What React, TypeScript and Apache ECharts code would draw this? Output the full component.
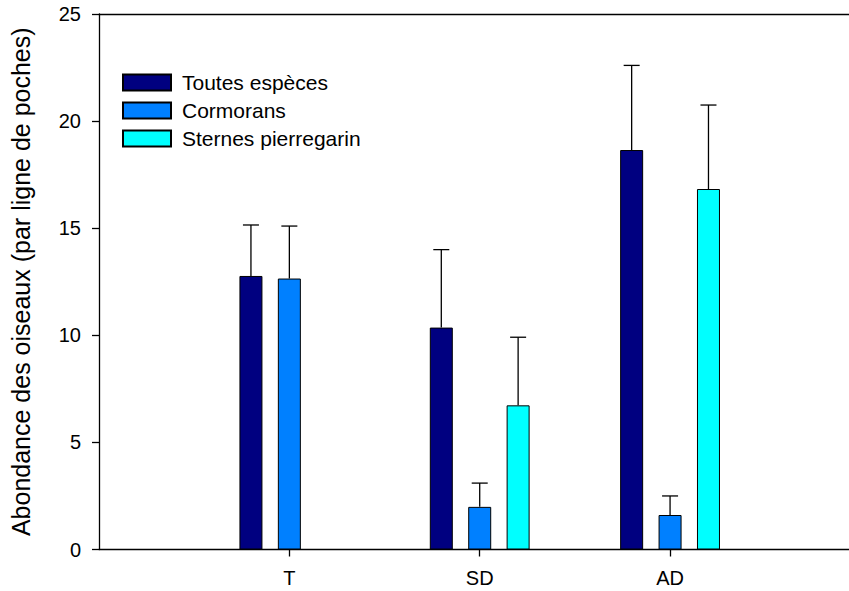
import React, { useEffect, useRef } from "react";
import * as echarts from "echarts";

const categories = ["T", "SD", "AD"];
const seriesNames = ["Toutes espèces", "Cormorans", "Sternes pierregarin"];
const toutesValues = [12.77, 10.36, 18.65];
const toutesErrors = [2.38, 3.64, 3.95];
const cormoransValues = [12.65, 1.99, 1.61];
const cormoransErrors = [2.45, 1.11, 0.89];
const sternesValues: (number | null)[] = [null, 6.73, 16.83];
const sternesErrors: (number | null)[] = [null, 3.18, 3.92];
const colors = ["#000080", "#0080FF", "#00FFFF"];
const yTicks = [0, 5, 10, 15, 20, 25];

const FONT = "Liberation Sans, Arial, Helvetica, sans-serif";
const BAR_WIDTH = 23;
const BAR_GAP = 0.67;

export default function App() {
  const ref = useRef<HTMLDivElement>(null);
  useEffect(() => {
    if (!ref.current) return;
    const chart = echarts.init(ref.current, undefined, { renderer: "svg" });
    const allValues = [toutesValues, cormoransValues, sternesValues];
    const allErrors = [toutesErrors, cormoransErrors, sternesErrors];
    const barSeries = allValues.map((vals, si) => ({
      type: "bar",
      name: seriesNames[si],
      xAxisIndex: 0,
      yAxisIndex: 0,
      barWidth: BAR_WIDTH,
      barGap: BAR_GAP * 100 + "%",
      itemStyle: { color: colors[si], borderColor: "#000", borderWidth: 1 },
      data: vals
        .map((v, i) => (v == null ? null : [i + 1, v]))
        .filter((d) => d !== null),
    }));
    const errSeries = allValues.map((vals, si) => {
      const offset = (si - 1) * BAR_WIDTH * (1 + BAR_GAP);
      return {
        type: "custom",
        name: "err" + si,
        xAxisIndex: 0,
        yAxisIndex: 0,
        z: 5,
        encode: { x: 0, y: 1 },
        data: vals
          .map((v, i) => (v == null ? null : [i + 1, v, allErrors[si][i]]))
          .filter((d) => d !== null),
        renderItem: (params: any, api: any) => {
          const x = api.value(0);
          const y = api.value(1);
          const e = api.value(2);
          const base = api.coord([x, y]);
          const top = api.coord([x, y + e]);
          const cx = base[0] + offset;
          const style = { stroke: "#000", lineWidth: 1.3 };
          return {
            type: "group",
            children: [
              { type: "line", shape: { x1: cx, y1: base[1], x2: cx, y2: top[1] }, style },
              { type: "line", shape: { x1: cx - 8, y1: top[1], x2: cx + 8, y2: top[1] }, style },
            ],
          };
        },
      };
    });
    chart.setOption({
      animation: false,
      backgroundColor: "#fff",
      textStyle: { fontFamily: FONT },
      legend: {
        data: seriesNames,
        orient: "vertical",
        left: 122,
        top: 72,
        padding: 0,
        itemWidth: 48,
        itemHeight: 16,
        itemGap: 7,
        icon: "rect",
        textStyle: { fontFamily: FONT, fontSize: 21, lineHeight: 20, color: "#000", padding: [0, 0, 0, 6] },
      },
      grid: { left: 96, right: 0, top: 14, bottom: 41.5, containLabel: false },
      xAxis: [
        {
          type: "value",
          min: 0,
          max: 3.94,
          interval: 1,
          splitLine: { show: false },
          axisLine: { show: true, lineStyle: { color: "#000", width: 1.3 } },
          axisTick: { show: true, customValues: [1, 2, 3], length: 7, lineStyle: { color: "#000", width: 1.3 } },
          axisLabel: {
            customValues: [1, 2, 3],
            formatter: (v: number) => categories[Math.round(v) - 1] ?? "",
            fontSize: 20,
            color: "#000",
            fontFamily: FONT,
            margin: 18,
          },
        },
        {
          type: "value",
          position: "top",
          min: 0,
          max: 3.94,
          splitLine: { show: false },
          axisLine: { show: true, onZero: false, lineStyle: { color: "#000", width: 1.3 } },
          axisTick: { show: false },
          axisLabel: { show: false },
        },
      ],
      yAxis: {
        type: "value",
        min: yTicks[0],
        max: yTicks[yTicks.length - 1],
        interval: 5,
        splitLine: { show: false },
        axisLine: { show: true, lineStyle: { color: "#000", width: 1.3 } },
        axisTick: { show: true, length: 7, lineStyle: { color: "#000", width: 1.3 } },
        axisLabel: { fontSize: 20, color: "#000", fontFamily: FONT, margin: 18 },
        name: "Abondance des oiseaux (par ligne de poches)",
        nameLocation: "middle",
        nameGap: 66,
        nameTextStyle: { fontSize: 25, color: "#000", fontFamily: FONT },
      },
      series: [...barSeries, ...errSeries],
    });
    return () => chart.dispose();
  }, []);
  return (
    <div
      ref={ref}
      style={{ position: "fixed", left: 0, top: 0, width: 849, height: 591, background: "#fff" }}
    />
  );
}
